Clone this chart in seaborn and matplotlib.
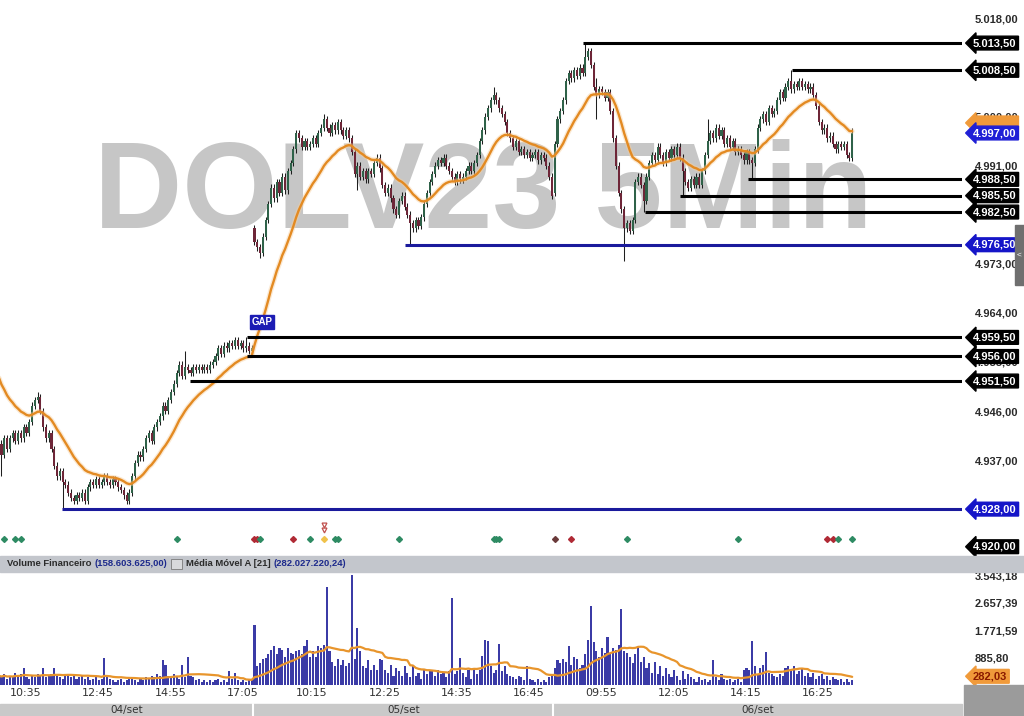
import matplotlib
matplotlib.use('Agg')
import matplotlib.pyplot as plt
import matplotlib.transforms as mtransforms
from matplotlib.patches import Rectangle
import seaborn as sns
import numpy as np
import pandas as pd

# ---- dados (fechamentos de 5 min) ----
day1_close = [4940, 4938, 4941, 4939,
              4941, 4942, 4940.5, 4942, 4941, 4943, 4942,
              4944, 4947, 4948, 4948.5,
              4946, 4943, 4941, 4942, 4939,
              4936, 4934, 4935, 4933, 4932.5,
              4931, 4930, 4929.5, 4930.5, 4930, 4931, 4929.5,
              4932, 4933, 4932.5, 4933.5, 4932.5, 4933, 4934, 4933, 4932.5, 4933.5, 4933, 4932, 4931.5,
              4930.5, 4929.5, 4931,
              4934, 4936.5, 4938, 4937.5, 4939,
              4941, 4942, 4940.5, 4943, 4944,
              4945, 4947, 4946, 4948, 4949.5,
              4951, 4953, 4954.5, 4952.5, 4954,
              4953.5, 4953, 4954, 4953.5, 4954, 4953.5, 4954, 4953.5, 4954.5,
              4955, 4956, 4957.5, 4956.5, 4958, 4957.5, 4958.5,
              4958, 4959, 4958, 4958.5, 4957.5, 4958, 4957, 4957.5]
day2_close = [4977, 4976, 4975, 4978, 4981,
              4984, 4987, 4985, 4988, 4986,
              4989, 4986.5, 4990, 4991.5,
              4994, 4997, 4996, 4994.5,
              4995.5, 4994.5, 4995, 4996, 4995,
              4997, 4998, 4999.5, 4998, 4997, 4998.5, 4997.5, 4999,
              4997.5, 4996.5, 4997.5, 4996,
              4993.5, 4989.5, 4991,
              4989, 4990, 4988.5, 4990, 4989.5,
              4991.5, 4992.5, 4990.5,
              4987.5, 4986, 4987, 4985,
              4983, 4982, 4984.5, 4985.5,
              4983.5, 4982, 4980.5,
              4979.5, 4981, 4980, 4981.5,
              4984, 4986, 4988, 4989.5,
              4991, 4992, 4991.5, 4992.5, 4991, 4990,
              4989, 4988, 4989.5, 4988.5, 4989, 4990,
              4991, 4990, 4991.5, 4993,
              4995.5, 4997.5, 5000, 5001.5,
              5003, 5004, 5003, 5001.5,
              5000.5, 4999, 4997, 4996,
              4994.5, 4995.5, 4993.5, 4994,
              4993, 4993.5, 4992.5, 4993, 4993.5, 4992, 4993, 4992.5,
              4991, 4989, 4985.5]
day3_close = [4995, 4999.5, 5001, 5003,
              5006.5, 5008, 5007,
              5008.5, 5007.5, 5009, 5008,
              5011, 5012, 5009.5,
              5005.5, 5004, 5005,
              5004.5, 5003.5, 5004.5,
              5001, 4996, 4991, 4986,
              4983, 4979.5, 4980.5,
              4979, 4981, 4988,
              4989, 4987.5, 4984.5,
              4989, 4991.5, 4993,
              4992, 4994.5, 4993, 4991.5, 4993.5, 4992.5,
              4994, 4993, 4994.5, 4992.5,
              4990, 4988, 4987, 4988.5, 4987.5,
              4989, 4987.5, 4990,
              4993, 4995.5, 4997, 4996, 4998,
              4996.5, 4997.5, 4995, 4996,
              4994.5, 4995.5, 4993.5, 4994,
              4993, 4992, 4993.5, 4992,
              4991.5, 4994, 4998,
              4999.5, 5000.5, 4999, 5001.5, 5000.5,
              5001, 5003, 5004.5, 5003.5,
              5005.5, 5006.5, 5005, 5006, 5005.5, 5006.5,
              5005.5, 5006, 5005, 5005.5,
              5004, 5002, 4999, 4997.5,
              4998, 4996, 4996.5, 4995,
              4994, 4995, 4994.5, 4995, 4993,
              4992.5, 4997]
day_open = [4941.5, 4979.5, 4986]
day_labels = ['04/set', '05/set', '06/set']

# pavios mais longos (índice do candle: preço)
long_lows = {1: 4934, 23: 4928, 46: 4929, 94: 4974, 129: 4986.5, 148: 4976.5,
             215: 4999.5, 225: 4973.5, 232: 4982.5, 246: 4985.5, 271: 4988.5}
long_highs = {14: 4949.5, 67: 4957, 89: 4959.5, 117: 5000.5, 178: 5005.5,
              211: 5013.5, 215: 5007, 255: 4999.5, 285: 5008.5, 307: 4998}

vol1 = [300, 250, 350, 200, 300, 250, 400, 300, 350, 550,
        250, 200, 300, 250, 350, 300, 550, 250, 300, 350,
        550, 300, 250, 200, 300, 350, 250, 300, 200, 250,
        300, 200, 250, 150, 200, 250, 150, 200, 875, 250,
        200, 150, 100, 150, 200, 100, 150, 200, 250, 150,
        100, 200, 150, 250, 200, 300, 250, 350, 300, 810,
        650, 300, 250, 350, 300, 200, 650, 250, 900, 300,
        250, 150, 200, 100, 150, 100, 150, 100, 150, 200,
        100, 150, 100, 460, 200, 400, 150, 100, 150, 100,
        150, 150]
vol2 = [1950, 600, 700, 850, 880, 1000, 1150, 1250, 1000, 1200,
        1150, 900, 1200, 1050, 1000, 1100, 1150, 1000, 1250, 1450,
        900, 1100, 900, 1250, 1200, 1300, 3180, 1100, 750, 600,
        850, 650, 800, 600, 700, 3560, 850, 1850, 1100, 600,
        550, 800, 500, 650, 500, 850, 800, 500, 400, 650,
        300, 550, 450, 300, 600, 400, 250, 650, 300, 400,
        200, 500, 350, 450, 450, 300, 500, 350, 400, 250,
        450, 2820, 350, 450, 870, 400, 250, 500, 200, 550,
        350, 500, 950, 1460, 1420, 600, 400, 500, 1330, 450,
        600, 350, 300, 250, 200, 300, 250, 150, 600, 200,
        150, 100, 200, 100, 150, 100, 250, 300]
vol3 = [550, 800, 700, 850, 750, 1250, 650, 900, 850, 550,
        650, 1000, 1450, 2560, 1400, 1100, 900, 1200, 1050, 1550,
        1000, 1200, 1150, 1300, 2460, 1100, 1050, 900, 700, 1000,
        1230, 750, 900, 550, 700, 400, 750, 350, 600, 300,
        550, 350, 250, 500, 300, 150, 450, 200, 350, 250,
        200, 100, 250, 150, 200, 100, 150, 800, 250, 150,
        350, 200, 150, 200, 100, 150, 200, 100, 500, 550,
        500, 1420, 600, 350, 550, 650, 1070, 400, 350, 300,
        250, 350, 300, 550, 600, 450, 600, 350, 450, 550,
        300, 400, 250, 400, 200, 300, 350, 200, 300, 150,
        250, 200, 150, 200, 100, 200, 100, 150]

ma_start = 4953.5          # média móvel no primeiro candle visível
time_labels = ['10:35', '12:45', '14:55', '17:05', '10:15', '12:25',
               '14:35', '16:45', '09:55', '12:05', '14:15', '16:25']
time_label_bars = [4, 30, 56, 82, 107, 133, 159, 185, 211, 237, 263, 289]

# escala de preço visível (as demais ficam atrás das etiquetas)
price_ticks = [5018, 5000, 4991, 4973, 4964, 4955, 4946, 4937]

levels = [5013.5, 5008.5, 4988.5, 4985.5, 4982.5, 4976.5, 4959.5, 4956.0, 4951.5, 4928.0]
level_start = [210.2, 285.4, 269.5, 245.0, 232.5, 146.2, 89.3, 89.3, 68.8, 22.8]
level_color = ['k', 'k', 'k', 'k', 'k', 'b', 'k', 'k', 'k', 'b']
last_price = 4997.00
ma_tag_value = 4998.85
axis_low_tag = 4920.00

vol_ticks = [885.80, 1771.59, 2657.39, 3543.18]
vol_ma_last = 282.03
vol_header = ['Volume Financeiro', '(158.603.625,00)', 'Média Móvel A [21]', '(282.027.220,24)']

signal_bars = [2, 6, 8, 64, 92, 93, 94, 106, 112, 117, 121, 122, 144,
               178, 179, 180, 200, 206, 226, 266, 298, 300, 302, 307]
signal_kind = ['g', 'g', 'g', 'g', 'r', 'r', 'g', 'r', 'g', 'y', 'g', 'g', 'g',
               'g', 'g', 'g', 'd', 'r', 'g', 'g', 'r', 'r', 'g', 'g']
gap_bar, gap_price = 94.7, 4962.3


def br(v):
    s = f"{v:,.2f}"
    return s.replace(',', 'X').replace('.', ',').replace('X', '.')


# ---- preparação ----
closes = np.array(day1_close + day2_close + day3_close, dtype=float)
n = len(closes)
idx = np.arange(n)
day_starts = [0, len(day1_close), len(day1_close) + len(day2_close)]
opens = np.empty(n)
for i in range(n):
    opens[i] = day_open[day_starts.index(i)] if i in day_starts else closes[i - 1]
highs = np.maximum(opens, closes) + 0.6
lows = np.minimum(opens, closes) - 0.6
for k, v in long_highs.items():
    highs[k] = max(highs[k], v)
for k, v in long_lows.items():
    lows[k] = min(lows[k], v)

ma = pd.Series(np.r_[ma_start, closes]).ewm(span=20, adjust=False).mean().values[1:]
vol = np.array(vol1 + vol2 + vol3, dtype=float)
vol_ma = pd.Series(vol).rolling(21, min_periods=1).mean().values

# ---- figura ----
sns.set_style('white')
plt.rcParams['font.family'] = ['Liberation Sans', 'DejaVu Sans']
W, H = 1024, 716
fig = plt.figure(figsize=(W / 100, H / 100), dpi=100)


def box(x0, y0, x1, y1):
    return [x0 / W, 1 - y1 / H, (x1 - x0) / W, (y1 - y0) / H]


ax = fig.add_axes(box(0, 0, 962, 556))
axv = fig.add_axes(box(0, 572, 962, 685))
xlim = (0.47, 346.5)

# marca d'água
ax.text(0.5026, (556 - 228) / 556, 'DOLV23 5Min', transform=ax.transAxes, ha='center',
        va='baseline', fontsize=88, weight='bold', color='#c6c6c6', zorder=0)

# candles
up = closes >= opens
ax.vlines(idx, lows, highs, color='#1e1e1e', lw=0.75, zorder=2)
body_low = np.minimum(opens, closes)
body_h = np.maximum(np.abs(closes - opens), 0.3)
ax.bar(idx, body_h, bottom=body_low, width=0.75,
       color=np.where(up, '#2f6249', '#6e2638'), linewidth=0, zorder=3)

# média móvel
sns.lineplot(x=idx, y=ma, ax=ax, color='#f7cf9e', lw=3.6, alpha=0.45, zorder=4)
sns.lineplot(x=idx, y=ma, ax=ax, color='#e38a22', lw=1.7, zorder=4)

# níveis
for lv, st, c in zip(levels, level_start, level_color):
    ax.hlines(lv, st, xlim[1], color='black' if c == 'k' else '#1a1a9c', lw=2.2, zorder=5)

ax.text(gap_bar, gap_price, 'GAP', ha='center', va='center', fontsize=7, weight='bold',
        color='white', zorder=6, bbox=dict(boxstyle='square,pad=0.2', fc='#1c1cb4', ec='#1c1cb4'))

# sinais
sig_col = {'g': '#2e8b63', 'r': '#b02a35', 'y': '#f0c24a', 'd': '#6a3a3a'}
trans_s = mtransforms.blended_transform_factory(ax.transData, ax.transAxes)
for b, kd in zip(signal_bars, signal_kind):
    ax.plot(b, 0.031, marker='D', ms=3.0, color=sig_col[kd], transform=trans_s,
            clip_on=False, zorder=6)
ax.plot([117, 117], [0.047, 0.056], marker='v', ms=3.5, ls='none', mfc='none',
        mec='#c0504d', mew=0.9, transform=trans_s, zorder=6)

ax.set_xlim(*xlim)
ax.set_ylim(4919.4, 5021.4)
ax.yaxis.tick_right()
ax.set_yticks(price_ticks)
ax.set_yticklabels([br(t) for t in price_ticks])
ax.set_xticks([])
ax.tick_params(axis='y', length=0, pad=9, labelsize=8, labelcolor='#2a2a2a')
for lab in ax.get_yticklabels():
    lab.set_fontweight('bold')
for s in ax.spines.values():
    s.set_visible(False)


def tag(axis, yval, text, fc, tc='white', z=10):
    tr = mtransforms.blended_transform_factory(axis.transAxes, axis.transData)
    axis.text(1.0115, yval, text, transform=tr, ha='left', va='center', fontsize=8,
              weight='bold', color=tc, clip_on=False, zorder=z,
              bbox=dict(boxstyle='larrow,pad=0.17', fc=fc, ec=fc))


for lv, c in zip(levels, level_color):
    tag(ax, lv, br(lv), 'black' if c == 'k' else '#1515c8')
tag(ax, ma_tag_value, br(ma_tag_value), '#f09a3a', '#f09a3a', z=9)
tag(ax, last_price, br(last_price), '#1f1fd6', z=11)
tag(ax, axis_low_tag + 1.1, br(axis_low_tag), 'black')

# ---- volume ----
sns.barplot(x=idx, y=vol, native_scale=True, ax=axv, color='#3b3ba6', saturation=1,
            width=0.75, errorbar=None, linewidth=0)
sns.lineplot(x=idx, y=vol_ma, ax=axv, color='#e8952c', lw=1.6, zorder=4)
axv.set_xlim(*xlim)
axv.set_ylim(0, 3661)
axv.yaxis.tick_right()
axv.set_yticks(vol_ticks)
axv.set_yticklabels([br(t) for t in vol_ticks])
axv.set_xticks([])
axv.set_xlabel('')
axv.set_ylabel('')
axv.tick_params(axis='y', length=0, pad=9, labelsize=8, labelcolor='#2a2a2a')
for lab in axv.get_yticklabels():
    lab.set_fontweight('bold')
for s in axv.spines.values():
    s.set_visible(False)
tag(axv, vol_ma_last, br(vol_ma_last), '#f09a3a', '#8a1a00')

# faixa de cabeçalho do volume
fig.add_artist(Rectangle((0, (H - 572) / H), 1, 16 / H, transform=fig.transFigure,
                         color='#c3c6cc', zorder=1))
hy = (H - 564) / H
hc = ['#2b2b2b', '#1d2a8c', '#2b2b2b', '#1d2a8c']
renderer = fig.canvas.get_renderer()
xpos = 7
for k, (t, c) in enumerate(zip(vol_header, hc)):
    txt = fig.text(xpos / W, hy, t, fontsize=6.8, weight='bold', color=c, va='center', zorder=2)
    xpos = txt.get_window_extent(renderer).x1 + 3
    if k == 1:
        fig.add_artist(Rectangle(((xpos + 1) / W, (H - 569) / H), 11 / W, 10 / H,
                                 transform=fig.transFigure, fc='#d8d9dc', ec='#7a7a7a',
                                 lw=0.6, zorder=2))
        xpos += 16

# eixo de tempo
trans_t = mtransforms.blended_transform_factory(ax.transData, fig.transFigure)
for lb, b in zip(time_labels, time_label_bars):
    fig.text(b, (H - 693) / H, lb, transform=trans_t, fontsize=8, color='#333333',
             ha='left', va='center', family='DejaVu Sans')

fig.add_artist(Rectangle((0, 0), 962 / W, 12 / H, transform=fig.transFigure,
                         color='#c9c9c9', zorder=1))
bounds = [xlim[0], day_starts[1] - 0.5, day_starts[2] - 0.5, xlim[1]]
for k, lb in enumerate(day_labels):
    fig.text((bounds[k] + bounds[k + 1]) / 2, 6 / H, lb, transform=trans_t, fontsize=7.5,
             color='#333333', ha='center', va='center', zorder=3, family='DejaVu Sans')
for b in bounds[1:3]:
    fig.add_artist(plt.Line2D([b, b], [0, 12 / H], transform=trans_t, color='white',
                              lw=1.5, zorder=2))
fig.add_artist(Rectangle((964 / W, 0), 60 / W, 31 / H, transform=fig.transFigure,
                         color='#9b9b9b', zorder=12))
fig.add_artist(Rectangle((1015 / W, (H - 285) / H), 9 / W, 60 / H, transform=fig.transFigure,
                         color='#6f6f6f', zorder=12))
fig.text(1019.5 / W, (H - 255) / H, '<', fontsize=6, color='white', ha='center',
         va='center', zorder=13)

fig.savefig('out.png', dpi=100)
